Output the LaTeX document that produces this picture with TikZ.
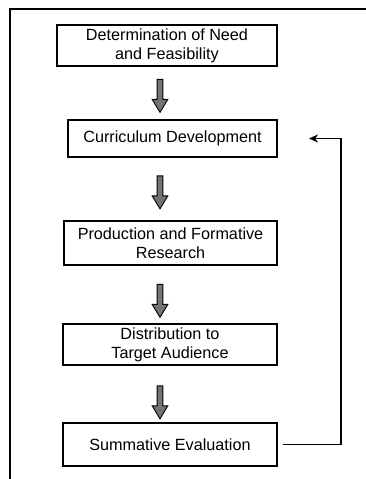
\documentclass[tikz,border=0pt]{standalone}
\usepackage{fontspec}
\setmainfont{Liberation Sans}
\usetikzlibrary{shapes.arrows, arrows.meta}

\begin{document}
\begin{tikzpicture}[x=1pt, y=-1pt,
    stagebox/.style={draw, line width=2pt, align=center, inner xsep=2pt, inner ysep=1pt,
      font=\fontsize{16.2}{19}\selectfont},
    downarrow/.style={single arrow, draw, fill=black!55, line width=0.9pt, rotate=-90,
      inner sep=2.4pt, minimum height=33pt, single arrow head extend=5pt,
      single arrow tip angle=62}]
  \useasboundingbox (0,0) rectangle (366,479);
  % outer frame (open at right and bottom)
  \draw[line width=1.6pt] (10,479) -- (10,9) -- (366,9);
  % stage boxes
  \node[stagebox, minimum width=220pt, minimum height=41pt] (need) at (167,45.5) {Determination of Need\\and Feasibility};
  \node[stagebox, minimum width=209pt, minimum height=37pt] (curric) at (172.5,138.5) {Curriculum Development};
  \node[stagebox, minimum width=213pt, minimum height=44pt] (prod) at (170.5,243) {Production and Formative\\Research};
  \node[stagebox, minimum width=214pt, minimum height=41pt] (distr) at (170,344.5) {Distribution to\\Target Audience};
  \node[stagebox, minimum width=214pt, minimum height=43pt] (summ) at (170,444.5) {Summative Evaluation};
  % block arrows between stages
  \node[downarrow] (arr1) at (160,93.5) {};
  \node[downarrow] (arr2) at (160,190) {};
  \node[downarrow] (arr3) at (160,298.5) {};
  \node[downarrow] (arr4) at (160,400) {};
  % feedback loop
  \draw[line width=1.6pt, -{Stealth[length=9pt, width=8pt]}] ([xshift=5pt]summ.east) -- ++(58,0) |- ([xshift=31pt]curric.east);
\end{tikzpicture}
\end{document}
